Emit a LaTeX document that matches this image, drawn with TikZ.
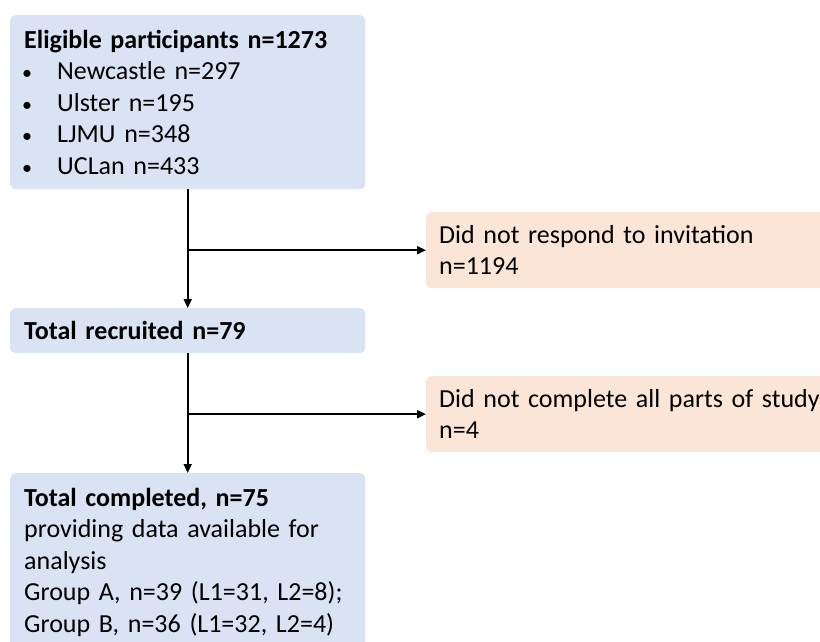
\documentclass[tikz,border=0pt]{standalone}
\usepackage{fontspec}
\setmainfont{Carlito}
\usetikzlibrary{arrows.meta}
\definecolor{boxblue}{HTML}{DAE3F3}
\definecolor{boxorange}{HTML}{FBE5D6}
\newcommand{\bul}[1]{\hspace*{-2pt}\makebox[35pt][l]{\fontsize{20}{20}\selectfont•}#1}
\begin{document}
\begin{tikzpicture}[x=1pt,y=-1pt,
  every node/.style={font=\fontsize{26}{31.5}\selectfont},
  bluebox/.style={fill=boxblue, rounded corners=5pt, inner xsep=14pt, inner ysep=0pt,
    text width=327pt, align=left, anchor=north west},
  orangebox/.style={fill=boxorange, rounded corners=5pt, inner xsep=13pt, inner ysep=0pt,
    text width=390pt, align=left, anchor=north west},
  conn/.style={line width=1.8pt, -{Triangle[length=9pt,width=8pt]}}]
\useasboundingbox (0,0) rectangle (820,641);
\clip (0,0) rectangle (820,641);
\node[bluebox, minimum height=174pt] (b1) at (10,15)
  {\textbf{Eligible participants n=1273}\\
   \bul{Newcastle n=297}\\
   \bul{Ulster n=195}\\
   \bul{LJMU n=348}\\
   \bul{UCLan n=433}};
\node[orangebox, minimum height=76pt] (o1) at (426,212)
  {Did not respond to invitation\\ n=1194};
\node[bluebox, minimum height=45pt] (b3) at (10,308)
  {\textbf{Total recruited n=79}};
\node[orangebox, minimum height=76pt] (o2) at (426,376)
  {Did not complete all parts of study\\ n=4};
\node[bluebox, inner ysep=15pt] (b5) at (10,473)
  {\textbf{Total completed, n=75}\\
   providing data available for\\
   analysis\\
   Group A, n=39 (L1=31, L2=8);\\
   Group B, n=36 (L1=32, L2=4)};
\coordinate (j1) at (b1.south |- o1.west);
\coordinate (j2) at (b3.south |- o2.west);
\draw[conn] (b1.south) -- (b3.north);
\draw[conn] (j1) -- (o1.west);
\draw[conn] (b3.south) -- (b5.north);
\draw[conn] (j2) -- (o2.west);
\end{tikzpicture}
\end{document}
